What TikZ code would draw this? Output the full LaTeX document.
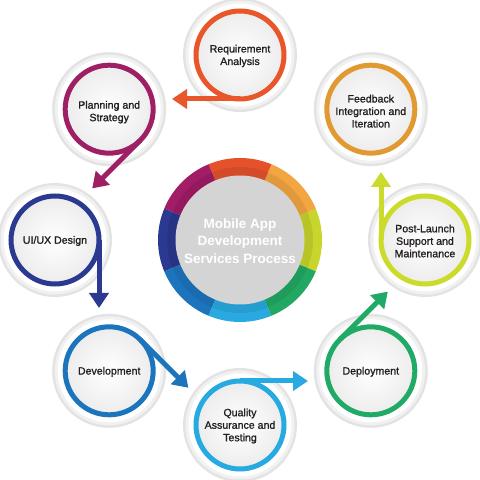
\documentclass[tikz,border=0pt]{standalone}
\usepackage{fontspec}
\setmainfont{Liberation Sans}
\newfontfamily\nodefont[FakeBold=1.2]{Liberation Sans}
\usetikzlibrary{arrows.meta}
\definecolor{cReq}{HTML}{E8562A}
\definecolor{cPlan}{HTML}{9E1F63}
\definecolor{cUI}{HTML}{2B3990}
\definecolor{cDev}{HTML}{1C75BC}
\definecolor{cQA}{HTML}{27AAE1}
\definecolor{cDep}{HTML}{21A966}
\definecolor{cPost}{HTML}{CBDB2A}
\definecolor{cFeed}{HTML}{E09A31}
\definecolor{sTop}{HTML}{E4512B}
\definecolor{sUR}{HTML}{F2A541}
\definecolor{sR}{HTML}{C8D52A}
\definecolor{sLR}{HTML}{22A862}
\definecolor{sB}{HTML}{29A9E0}
\definecolor{sLL}{HTML}{1C75BC}
\definecolor{sL}{HTML}{2B3991}
\definecolor{sUL}{HTML}{A11D65}
\definecolor{txt}{HTML}{231F20}
\definecolor{hub}{HTML}{D4D4D4}
\begin{document}
\begin{tikzpicture}[x=1pt,y=1pt,
  lbl/.style={align=center, text=txt, font=\nodefont\fontsize{10.6}{12.5}\selectfont, inner sep=0pt},
  hublbl/.style={align=center, text=white, font=\bfseries\fontsize{13.5}{17.5}\selectfont, inner sep=0pt},
  ringline/.style={line width=5pt},
  tip/.style={-{Triangle[width=19pt,length=15pt]}}]
\useasboundingbox (0,0) rectangle (480,480);
\fill[white] (0,0) rectangle (480,480);
\coordinate (O) at (240,240);
% central ring segments
\foreach \c [count=\i from 0] in {sR,sUR,sTop,sUL,sL,sLL,sB,sLR}{
  \pgfmathsetmacro{\aa}{-22.5+45*\i}
  \pgfmathsetmacro{\bb}{22.5+45*\i}
  \fill[\c] ([shift={(\aa:82)}]O) arc[start angle=\aa, end angle=\bb, radius=82]
    -- ([shift={(\bb:64)}]O) arc[start angle=\bb, end angle=\aa, radius=64] -- cycle;
}
\fill[black, opacity=0.07, even odd rule] (O) circle (73) (O) circle (64);
\fill[hub] (O) circle (64.5);
\node[hublbl] (hubtext) at (240,239) {Mobile App\\Development\\Services Process};
% outer node positions
\foreach \n/\a in {req/90, plan/135, ui/180, dev/225, qa/270, dep/315, post/0, feed/45}{
  \coordinate (\n) at ([shift={(\a:185)}]O);
}
% node discs, rings and arrows
\foreach \n/\a/\c/\hasarrow in {req/90/cReq/1, plan/135/cPlan/1, ui/180/cUI/1, dev/225/cDev/1, qa/270/cQA/1, dep/315/cDep/1, post/0/cPost/1, feed/45/cFeed/0}{
  \fill[gray!22] (\n) circle (57);
  \fill[gray!11] (\n) circle (54.5);
  \fill[white] (\n) circle (51.5);
  \shade[inner color=white, outer color=gray!14] (\n) circle (42);
  \draw[ringline, \c] (\n) circle (44);
  \ifnum\hasarrow=1
    \pgfmathsetmacro{\ta}{\a+180}
    \pgfmathsetmacro{\da}{\a+90}
    \coordinate (\n-t) at ([shift={(\ta:44)}]\n);
    \coordinate (\n-e) at ([shift={(\da:68)}]\n-t);
    \draw[ringline, \c, tip] (\n-t) -- (\n-e);
  \fi
}
\node[lbl] (treq) at ([yshift=-1]req) {Requirement\\Analysis};
\node[lbl] (tplan) at ([yshift=-3]plan) {Planning and\\Strategy};
\node[lbl] (tui) at ([yshift=-1]ui) {UI/UX Design};
\node[lbl] (tdev) at ([yshift=-1]dev) {Development};
\node[lbl] (tqa) at ([yshift=-1]qa) {Quality\\Assurance and\\Testing};
\node[lbl] (tdep) at ([yshift=-1]dep) {Deployment};
\node[lbl] (tpost) at ([yshift=-1]post) {Post-Launch\\Support and\\Maintenance};
\node[lbl] (tfeed) at ([yshift=-2]feed) {Feedback\\Integration and\\Iteration};
\end{tikzpicture}
\end{document}
